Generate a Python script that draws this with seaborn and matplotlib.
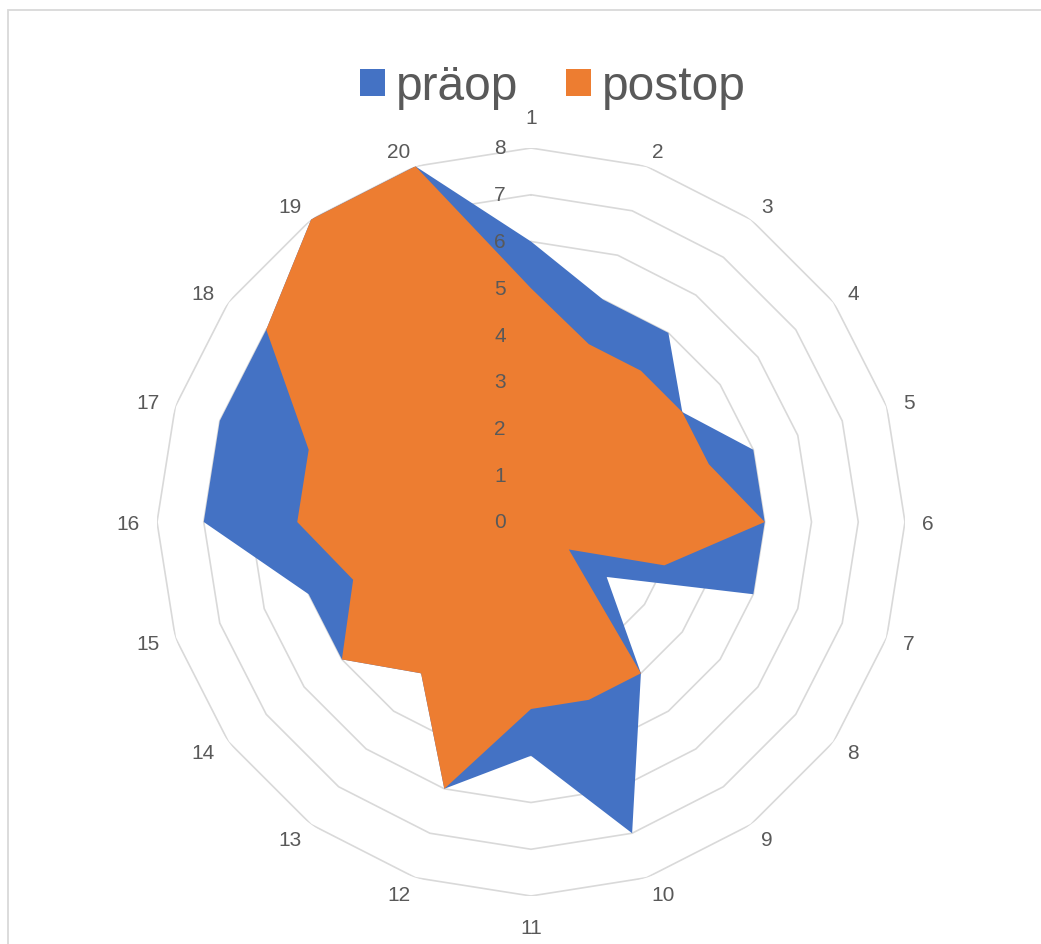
import numpy as np
import matplotlib
matplotlib.use("Agg")
import matplotlib.pyplot as plt
from matplotlib.patches import Patch, Rectangle
import seaborn as sns

# Scores per item (1..20), before and after surgery
categories = [str(i) for i in range(1, 21)]
praeop = [6, 5, 5, 4, 5, 5, 5, 2, 4, 7, 5, 6, 4, 5, 5, 7, 7, 7, 8, 8]
postop = [5, 4, 4, 4, 4, 5, 3, 1, 4, 4, 4, 6, 4, 5, 4, 5, 5, 7, 8, 8]
series_names = ["präop", "postop"]
radial_ticks = list(range(0, 9))

sns.set_theme(style="white")
plt.rcParams["font.family"] = ["Liberation Sans", "DejaVu Sans"]

BLUE = "#4472C4"
ORANGE = "#ED7D31"
GRID = "#D9D9D9"
TEXT = "#595959"

W, H = 1041, 944
fig = plt.figure(figsize=(W / 100, H / 100), dpi=100)
fig.patch.set_facecolor("white")

# chart-area frame
fig.patches.append(Rectangle((8 / W, -0.05), 1.1, 1 - 10 / H + 0.05,
                             transform=fig.transFigure, fill=False,
                             edgecolor=GRID, linewidth=1.3))

cx, cy, R = 531, 522, 374
ax = fig.add_axes([(cx - R) / W, (H - cy - R) / H, 2 * R / W, 2 * R / H],
                  projection="polar")
ax.set_theta_zero_location("N")
ax.set_theta_direction(-1)
ax.set_ylim(0, radial_ticks[-1])
ax.grid(False)
ax.spines["polar"].set_visible(False)
ax.set_xticks([])
ax.set_yticks([])
ax.set_facecolor("none")

n = len(categories)
theta = np.arange(n) * 2 * np.pi / n
theta_closed = np.append(theta, theta[0])

# polygonal rings
for lvl in radial_ticks[1:]:
    ax.plot(theta_closed, np.full(n + 1, lvl), color=GRID, lw=1.2, zorder=1)

# filled series, later series drawn on top
for vals, col in [(praeop, BLUE), (postop, ORANGE)]:
    v = np.append(vals, vals[0])
    ax.fill(theta_closed, v, color=col, lw=0, zorder=2)

# value axis labels along the first spoke
for k in radial_ticks:
    ax.annotate(str(k), xy=(0, k), xytext=(-31, -1), textcoords="offset pixels",
                ha="center", va="center", fontsize=15, color=TEXT, zorder=3,
                annotation_clip=False)

# category labels just outside the outer ring, aligned away from the centre
gap = 17
for t, lab in zip(theta, categories):
    s, c = np.sin(t), np.cos(t)
    if abs(s) < 1e-6:
        ha = "center"
        off = (0, (gap + 14) * np.sign(c) - 2)
    else:
        ha = "left" if s > 0 else "right"
        off = (gap * s, gap * c - 2)
    ax.annotate(lab, xy=(t, radial_ticks[-1]), xytext=off,
                textcoords="offset pixels", ha=ha, va="center",
                fontsize=15, color=TEXT, annotation_clip=False)

handles = [Patch(facecolor=BLUE, edgecolor="none"),
           Patch(facecolor=ORANGE, edgecolor="none")]
leg = fig.legend(handles, series_names, loc="center",
                 bbox_to_anchor=(553 / W, 1 - 87 / H), ncol=2, frameon=False,
                 fontsize=34.5, handlelength=0.52, handleheight=0.52,
                 handletextpad=0.23, columnspacing=1.0, borderpad=0)
for txt in leg.get_texts():
    txt.set_color(TEXT)

fig.savefig("out.png", dpi=100, facecolor="white")
